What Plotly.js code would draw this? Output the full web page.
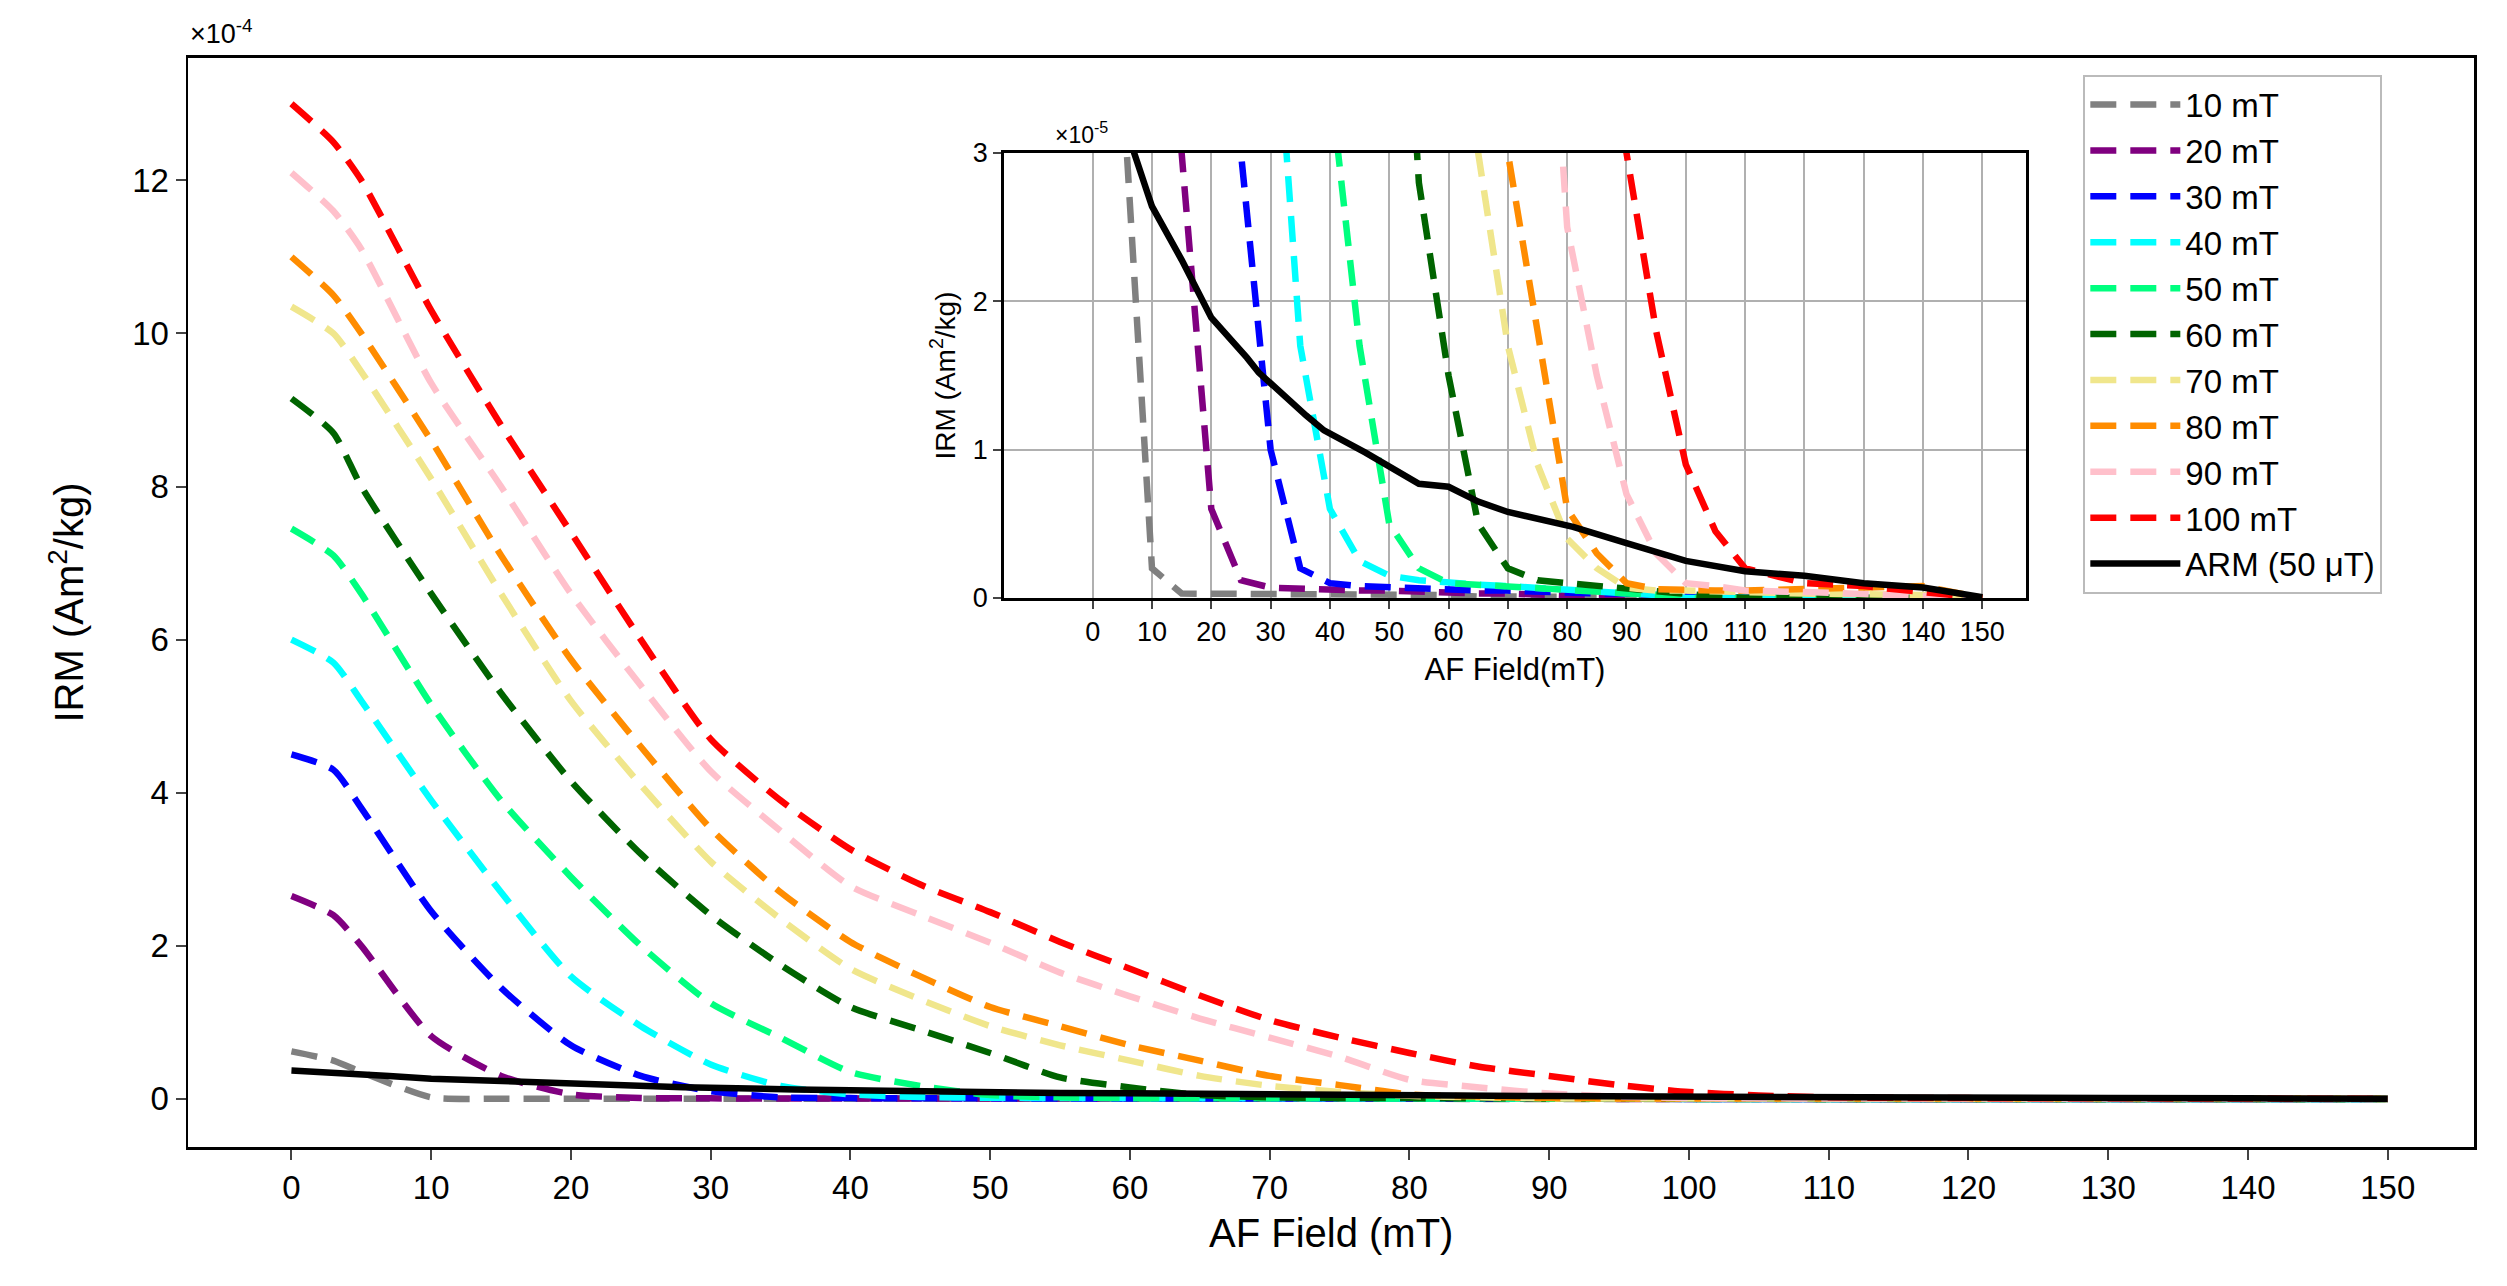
<!DOCTYPE html>
<html><head><meta charset="utf-8">
<script src="https://cdn.plot.ly/plotly-3.0.1.min.js"></script>
<style>html,body{margin:0;padding:0;background:#fff}#c{width:2507px;height:1286px}</style>
</head><body><div id="c"></div>
<script>
const xField = [0,3,5,10,15,20,25,30,35,40,45,50,55,60,65,70,75,80,85,90,95,100,105,110,120,130,140,150];
const seriesNames = ["10 mT","20 mT","30 mT","40 mT","50 mT","60 mT","70 mT","80 mT","90 mT","100 mT"];
const seriesColors = ["gray","purple","blue","cyan","springgreen","darkgreen","khaki","darkorange","pink","red"];
// values in units of 1e-4 Am2/kg
const irm10  = [0.62,0.5,0.35,0.02,0.003,0.003,0.003,0.003,0.003,0.003,0.002,0.002,0.002,0.002,0.001,0.001,0.001,0.001,0,0,0,0,0,0,0,0,0,0];
const irm20  = [2.65,2.4,2.0,0.82,0.3,0.06,0.012,0.007,0.006,0.005,0.005,0.005,0.004,0.004,0.003,0.003,0.002,0.002,0.001,0.001,0,0,0,0,0,0,0,0];
const irm30  = [4.5,4.3,3.8,2.45,1.45,0.7,0.3,0.1,0.02,0.01,0.008,0.007,0.006,0.006,0.005,0.005,0.004,0.004,0.003,0.003,0.002,0,0,0,0,0,0,0];
const irm40  = [6.0,5.7,5.2,3.9,2.7,1.6,0.95,0.45,0.17,0.06,0.025,0.015,0.012,0.01,0.009,0.008,0.007,0.006,0.004,0.003,0.002,0,0,0,0,0,0,0];
const irm50  = [7.45,7.1,6.6,5.15,3.9,2.9,2.0,1.25,0.8,0.35,0.17,0.05,0.02,0.01,0.009,0.008,0.007,0.005,0.004,0.003,0.002,0,0,0,0,0,0,0];
const irm60  = [9.15,8.7,8.0,6.6,5.3,4.15,3.2,2.4,1.75,1.2,0.9,0.6,0.28,0.15,0.05,0.02,0.012,0.01,0.008,0.006,0.004,0.002,0.001,0,0,0,0,0];
const irm70  = [10.35,10.0,9.5,8.1,6.6,5.2,4.1,3.1,2.35,1.7,1.3,0.95,0.7,0.5,0.3,0.17,0.09,0.04,0.02,0.007,0.005,0.005,0.004,0.004,0.003,0.003,0.002,0];
const irm80  = [11.0,10.5,10.0,8.6,7.1,5.74,4.6,3.53,2.7,2.05,1.6,1.2,0.95,0.7,0.5,0.3,0.18,0.06,0.03,0.01,0.006,0.005,0.005,0.005,0.006,0.007,0.008,0];
const irm90  = [12.1,11.6,11.1,9.35,8.0,6.6,5.4,4.28,3.5,2.78,2.4,2.04,1.65,1.34,1.05,0.8,0.55,0.25,0.15,0.07,0.03,0.01,0.008,0.005,0.004,0.003,0.002,0];
const irm100 = [13.0,12.5,12.0,10.3,8.8,7.4,6.0,4.7,3.9,3.26,2.8,2.44,2.05,1.7,1.35,1.03,0.8,0.6,0.42,0.3,0.18,0.09,0.045,0.02,0.01,0.008,0.004,0];
const irmSeries = [irm10,irm20,irm30,irm40,irm50,irm60,irm70,irm80,irm90,irm100];
const armX = [0,5,7,10,15,20,26,28,36,39,46,51,55,60,65,70,81,90,100,110,120,130,140,150];
const armY = [0.37,0.33,0.30,0.264,0.228,0.189,0.162,0.152,0.123,0.113,0.098,0.087,0.077,0.075,0.065,0.058,0.048,0.037,0.025,0.018,0.015,0.010,0.007,0.0005];

const F = "Liberation Sans, Arial, sans-serif";
const traces = [];
const dashStyle = "26px,14px";
irmSeries.forEach((s,i)=>{
  traces.push({x:xField,y:s,name:seriesNames[i],mode:"lines",line:{color:seriesColors[i],width:6.5,dash:dashStyle,shape:"spline",smoothing:0.6},xaxis:"x",yaxis:"y"});
});
traces.push({x:armX,y:armY,name:"ARM (50 μT)",mode:"lines",line:{color:"black",width:6.5},xaxis:"x",yaxis:"y"});
irmSeries.forEach((s,i)=>{
  traces.push({x:xField,y:s.map(v=>v*10),showlegend:false,mode:"lines",line:{color:seriesColors[i],width:6.5,dash:dashStyle},xaxis:"x2",yaxis:"y2"});
});
traces.push({x:armX,y:armY.map(v=>v*10),showlegend:false,mode:"lines",line:{color:"black",width:6.5},xaxis:"x2",yaxis:"y2"});

const tick10 = Array.from({length:16},(_,i)=>i*10);
const layout = {
  width:2507,height:1286,margin:{l:0,r:0,t:0,b:0},paper_bgcolor:"white",plot_bgcolor:"white",
  font:{family:F,color:"black"},
  xaxis:{domain:[0.075,0.987],anchor:"y",range:[-7.4,156.2],tickvals:tick10,ticks:"outside",ticklen:10,tickwidth:2,
    showline:true,linewidth:2.5,linecolor:"black",mirror:true,showgrid:false,zeroline:false,tickfont:{size:33},
    title:{text:"AF Field (mT)",font:{size:40},standoff:14}},
  yaxis:{domain:[0.108,0.955],anchor:"x",range:[-0.63,13.6],tickvals:[0,2,4,6,8,10,12],ticks:"outside",ticklen:10,tickwidth:2,
    showline:true,linewidth:2.5,linecolor:"black",mirror:true,showgrid:false,zeroline:false,tickfont:{size:33},
    title:{text:"IRM (Am<sup>2</sup>/kg)",font:{size:40},standoff:36}},
  xaxis2:{domain:[0.4006,0.808],anchor:"y2",range:[-14.9,157.3],tickvals:tick10,ticks:"outside",ticklen:8,tickwidth:2,
    showline:true,linewidth:3,linecolor:"black",mirror:true,showgrid:true,gridcolor:"#b0b0b0",gridwidth:2,zeroline:false,tickfont:{size:27},
    title:{text:"AF Field(mT)",font:{size:31},standoff:12}},
  yaxis2:{domain:[0.535,0.881],anchor:"x2",range:[0,3],tickvals:[0,1,2,3],ticks:"outside",ticklen:8,tickwidth:2,
    showline:true,linewidth:3,linecolor:"black",mirror:true,showgrid:true,gridcolor:"#b0b0b0",gridwidth:2,zeroline:false,tickfont:{size:27},
    title:{text:"IRM (Am<sup>2</sup>/kg)",font:{size:28},standoff:10}},
  legend:{x:0.831,y:0.942,xanchor:"left",yanchor:"top",bgcolor:"white",bordercolor:"#bbbbbb",borderwidth:2,
    font:{size:33},tracegroupgap:0,itemwidth:90},
  annotations:[
    {xref:"paper",yref:"paper",x:0.075,y:0.96,xanchor:"left",yanchor:"bottom",showarrow:false,text:"×10<sup>-4</sup>",font:{size:27}},
    {xref:"paper",yref:"paper",x:0.42,y:0.883,xanchor:"left",yanchor:"bottom",showarrow:false,text:"×10<sup>-5</sup>",font:{size:23}}
  ]
};
Plotly.newPlot("c",traces,layout,{displayModeBar:false,staticPlot:true});
</script></body></html>
